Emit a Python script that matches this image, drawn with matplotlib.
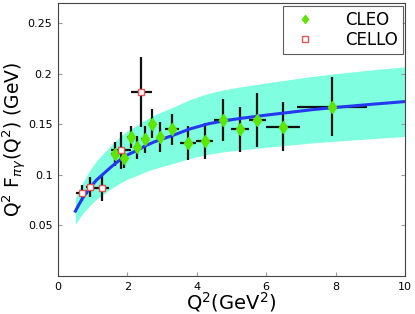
import numpy as np
import matplotlib
matplotlib.use("Agg")
import matplotlib.pyplot as plt

# theory curve and band
q2_th = [0.5, 0.6, 0.7, 0.8, 0.92, 1.1, 1.31, 1.55, 1.79, 2.0, 2.27, 2.5, 2.75,
         3.0, 3.3, 3.8, 4.33, 4.8, 5.29, 6.0, 6.69, 7.3, 8.0, 9.0, 10.0]
ff_th = [0.0642, 0.0705, 0.0765, 0.0815, 0.0873, 0.0947, 0.1012, 0.1085, 0.115,
         0.1198, 0.1242, 0.1285, 0.1324, 0.1355, 0.139, 0.1455, 0.1506, 0.1537,
         0.1561, 0.1592, 0.162, 0.1645, 0.1668, 0.1698, 0.1726]
ff_hi = [0.0770, 0.0846, 0.0918, 0.0978, 0.1048, 0.1136, 0.1214, 0.1302, 0.1380,
         0.1438, 0.1490, 0.1542, 0.1589, 0.1626, 0.1668, 0.1746, 0.1807, 0.1844,
         0.1873, 0.1910, 0.1944, 0.1974, 0.2002, 0.2038, 0.2071]
ff_lo = [0.0514, 0.0564, 0.0612, 0.0652, 0.0698, 0.0758, 0.0810, 0.0868, 0.0920,
         0.0958, 0.0994, 0.1028, 0.1059, 0.1084, 0.1112, 0.1164, 0.1205, 0.1230,
         0.1249, 0.1274, 0.1296, 0.1316, 0.1334, 0.1358, 0.1381]

# CLEO
cleo_q2 = [1.65, 1.89, 2.10, 2.29, 2.50, 2.71, 2.94, 3.29, 3.75, 4.23, 4.75, 5.24, 5.74, 6.48, 7.90]
cleo_ff = [0.1206, 0.1166, 0.1377, 0.1272, 0.1351, 0.1509, 0.1374, 0.145, 0.1318,
           0.1338, 0.1542, 0.145, 0.1545, 0.1479, 0.1677]
cleo_dy = [0.0122, 0.0099, 0.0109, 0.0115, 0.0132, 0.0143, 0.0148, 0.0156, 0.0166,
           0.0178, 0.0211, 0.0219, 0.0264, 0.0242, 0.0293]
cleo_dx = [0.12, 0.1, 0.1, 0.1, 0.1, 0.1, 0.1, 0.2, 0.23, 0.25, 0.25, 0.25, 0.25, 0.5, 1.0]

# CELLO
cello_q2 = [0.69, 0.93, 1.26, 1.81, 2.40]
cello_ff = [0.082, 0.088, 0.087, 0.1242, 0.1818]
cello_dy = [0.0079, 0.0099, 0.0132, 0.0181, 0.0346]
cello_dx = [0.18, 0.12, 0.22, 0.29, 0.30]

fig = plt.figure(figsize=(4.15, 3.14), dpi=100)
ax = fig.add_axes([0.1398, 0.121, 0.8362, 0.869])

ax.fill_between(q2_th, ff_lo, ff_hi, color='#7FFFDF', lw=0, zorder=1)
ax.errorbar(cleo_q2, cleo_ff, yerr=cleo_dy, xerr=cleo_dx, fmt='none',
            ecolor='#111111', elinewidth=1.6, capsize=0, zorder=2)
ax.errorbar(cello_q2, cello_ff, yerr=cello_dy, xerr=cello_dx, fmt='none',
            ecolor='#111111', elinewidth=1.6, capsize=0, zorder=2)
ax.plot(q2_th, ff_th, color='#2538F0', lw=2.2, zorder=3)
ax.plot(cleo_q2, cleo_ff, 'd', color='#5CE600', mec='#5CE600', ms=6,
        ls='none', label='CLEO', zorder=4)
ax.plot(cello_q2, cello_ff, 's', mfc='white', mec='#E05555', mew=1.0, ms=5,
        ls='none', label='CELLO', zorder=4)

ax.set_xlim(0, 10)
ax.set_ylim(0, 0.27)
ax.set_xticks([0, 2, 4, 6, 8, 10])
ax.set_yticks([0.05, 0.1, 0.15, 0.2, 0.25])
ax.set_yticklabels(['0.05', '0.1', '0.15', '0.2', '0.25'])
ax.tick_params(direction='in', length=3, labelsize=8, top=False, right=True,
               color='#999999', pad=4)
for s in ax.spines.values():
    s.set_color('#444444')
    s.set_linewidth(0.8)

ax.set_xlabel(r'Q$^2$(GeV$^2$)', fontsize=14, labelpad=-1)
ax.set_ylabel(r'Q$^2$ F$_{\pi\gamma}$(Q$^2$) (GeV)', fontsize=13.5, labelpad=-1)

leg = ax.legend(loc='upper right', fontsize=12, frameon=True, fancybox=False,
                edgecolor='#333333', borderaxespad=0.15, handletextpad=1.4,
                labelspacing=0.15, borderpad=0.3, markerscale=0.75)
leg.get_frame().set_linewidth(0.8)

fig.savefig('out.png', dpi=100)
